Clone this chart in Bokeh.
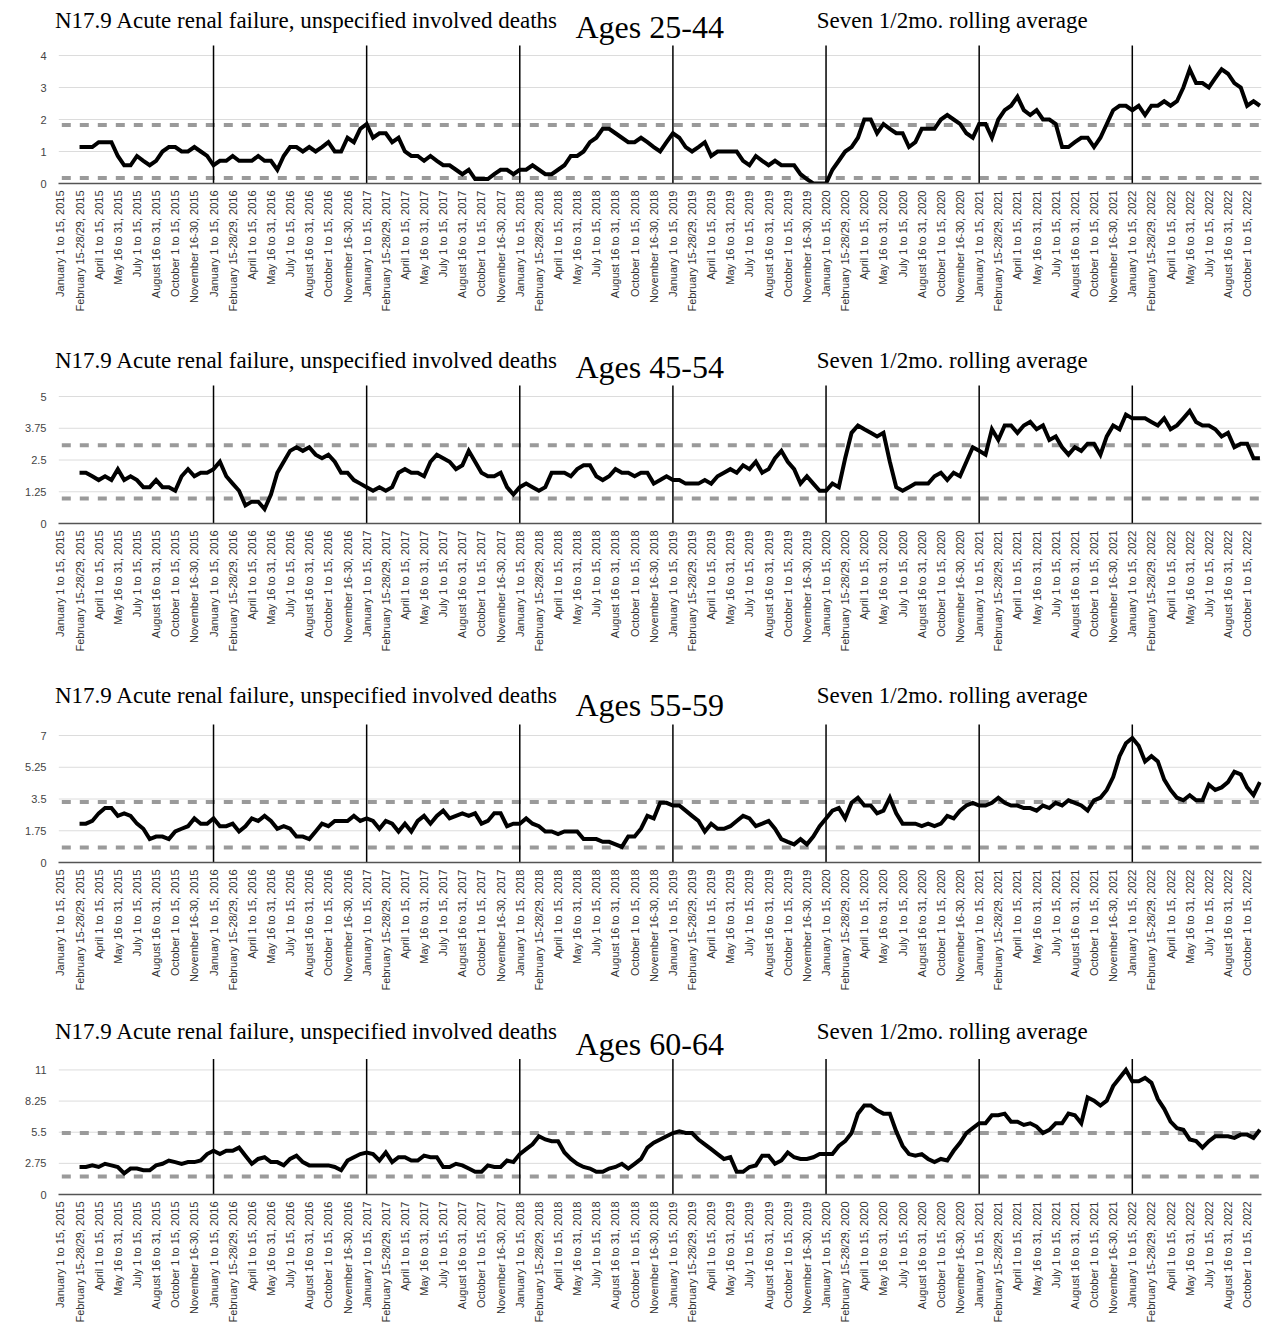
from math import pi
from bokeh.plotting import figure
from bokeh.layouts import column
from bokeh.models import Range1d, FixedTicker, Label
from bokeh.embed import file_html
from bokeh.resources import INLINE

# ---------------- data ----------------
title_left = "N17.9 Acute renal failure, unspecified involved deaths"
title_right = "Seven 1/2mo. rolling average"
age_groups = ["Ages 25-44", "Ages 45-54", "Ages 55-59", "Ages 60-64"]

period_names = ["January 1 to 15", "February 15-28/29", "April 1 to 15", "May 16 to 31",
                "July 1 to 15", "August 16 to 31", "October 1 to 15", "November 16-30"]
years = [2015, 2016, 2017, 2018, 2019, 2020, 2021, 2022]
n_categories = 189          # half-month periods shown
first_value_index = 3       # centred 7-point rolling average starts here
year_starts = [24, 48, 72, 96, 120, 144, 168]

ages_25_44 = [
    1.14, 1.14, 1.14, 1.29, 1.29, 1.29, 0.86, 0.57, 0.57, 0.86, 0.71, 0.57, 0.71, 1.0, 1.14, 1.14,
    1.0, 1.0, 1.14, 1.0, 0.86, 0.57, 0.71, 0.71, 0.86, 0.71, 0.71, 0.71, 0.86, 0.71, 0.71, 0.43,
    0.86, 1.14, 1.14, 1.0, 1.14, 1.0, 1.14, 1.29, 1.0, 1.0, 1.43, 1.29, 1.71, 1.86, 1.43, 1.57,
    1.57, 1.29, 1.43, 1.0, 0.86, 0.86, 0.71, 0.86, 0.71, 0.57, 0.57, 0.43, 0.29, 0.43, 0.14, 0.14,
    0.14, 0.29, 0.43, 0.43, 0.29, 0.43, 0.43, 0.57, 0.43, 0.29, 0.29, 0.43, 0.57, 0.86, 0.86, 1.0,
    1.29, 1.43, 1.71, 1.71, 1.57, 1.43, 1.29, 1.29,
    1.43, 1.29, 1.14, 1.0, 1.29, 1.57, 1.43, 1.14, 1.0, 1.14, 1.29, 0.86, 1.0, 1.0, 1.0, 1.0,
    0.71, 0.57, 0.86, 0.71, 0.57, 0.71, 0.57, 0.57, 0.57, 0.29, 0.14, 0.0, 0.0, 0.0, 0.43, 0.71,
    1.0, 1.14, 1.43, 2.0, 2.0, 1.57, 1.86, 1.71, 1.57, 1.57, 1.14, 1.29, 1.71, 1.71, 1.71, 2.0,
    2.14, 2.0, 1.86, 1.57, 1.43, 1.86, 1.86, 1.43, 2.0, 2.29, 2.43, 2.71, 2.29, 2.14, 2.29, 2.0,
    2.0, 1.86, 1.14, 1.14, 1.29, 1.43, 1.43, 1.14, 1.43, 1.86, 2.29, 2.43, 2.43, 2.29, 2.43, 2.14,
    2.43, 2.43, 2.57, 2.43, 2.57, 3.0, 3.57, 3.14, 3.14, 3.0, 3.29, 3.57, 3.43, 3.14, 3.0, 2.43,
    2.57, 2.43]

ages_45_54 = [
    2.0, 2.0, 1.86, 1.71, 1.86, 1.71, 2.14, 1.71, 1.86, 1.71, 1.43, 1.43, 1.71, 1.43, 1.43, 1.29,
    1.86, 2.14, 1.86, 2.0, 2.0, 2.14, 2.43, 1.86, 1.57, 1.29, 0.71, 0.86, 0.86, 0.57, 1.14, 2.0,
    2.43, 2.86, 3.0, 2.86, 3.0, 2.71, 2.57, 2.71, 2.43, 2.0, 2.0, 1.71, 1.57, 1.43, 1.29, 1.43,
    1.29, 1.43, 2.0, 2.14, 2.0, 2.0, 1.86, 2.43, 2.71, 2.57, 2.43, 2.14, 2.29, 2.86, 2.43, 2.0,
    1.86, 1.86, 2.0, 1.43, 1.14, 1.43, 1.57, 1.43, 1.29, 1.43, 2.0, 2.0, 2.0, 1.86, 2.14, 2.29,
    2.29, 1.86, 1.71, 1.86, 2.14, 2.0, 2.0, 1.86,
    2.0, 2.0, 1.57, 1.71, 1.86, 1.71, 1.71, 1.57, 1.57, 1.57, 1.71, 1.57, 1.86, 2.0, 2.14, 2.0,
    2.29, 2.14, 2.43, 2.0, 2.14, 2.57, 2.86, 2.43, 2.14, 1.57, 1.86, 1.57, 1.29, 1.29, 1.57, 1.43,
    2.57, 3.57, 3.86, 3.71, 3.57, 3.43, 3.57, 2.43, 1.43, 1.29, 1.43, 1.57, 1.57, 1.57, 1.86, 2.0,
    1.71, 2.0, 1.86, 2.43, 3.0, 2.86, 2.71, 3.71, 3.29, 3.86, 3.86, 3.57, 3.86, 4.0, 3.71, 3.86,
    3.29, 3.43, 3.0, 2.71, 3.0, 2.86, 3.14, 3.14, 2.71, 3.43, 3.86, 3.71, 4.29, 4.14, 4.14, 4.14,
    4.0, 3.86, 4.14, 3.71, 3.86, 4.14, 4.43, 4.0, 3.86, 3.86, 3.71, 3.43, 3.57, 3.0, 3.14, 3.14,
    2.57, 2.57]

ages_55_59 = [
    2.14, 2.14, 2.29, 2.71, 3.0, 3.0, 2.57, 2.71, 2.57, 2.14, 1.86, 1.29, 1.43, 1.43, 1.29, 1.71,
    1.86, 2.0, 2.43, 2.14, 2.14, 2.43, 2.0, 2.0, 2.14, 1.71, 2.0, 2.43, 2.29, 2.57, 2.29, 1.86,
    2.0, 1.86, 1.43, 1.43, 1.29, 1.71, 2.14, 2.0, 2.29, 2.29, 2.29, 2.57, 2.29, 2.43, 2.29, 1.86,
    2.29, 2.14, 1.71, 2.14, 1.71, 2.29, 2.57, 2.14, 2.57, 2.86, 2.43, 2.57, 2.71, 2.57, 2.71, 2.14,
    2.29, 2.71, 2.71, 2.0, 2.14, 2.14, 2.43, 2.14, 2.0, 1.71, 1.71, 1.57, 1.71, 1.71, 1.71, 1.29,
    1.29, 1.29, 1.14, 1.14, 1.0, 0.86, 1.43, 1.43,
    1.86, 2.57, 2.43, 3.29, 3.29, 3.14, 3.14, 2.86, 2.57, 2.29, 1.71, 2.14, 1.86, 1.86, 2.0, 2.29,
    2.57, 2.43, 2.0, 2.14, 2.29, 1.86, 1.29, 1.14, 1.0, 1.29, 1.0, 1.43, 2.0, 2.43, 2.86, 3.0,
    2.43, 3.29, 3.57, 3.14, 3.14, 2.71, 2.86, 3.57, 2.71, 2.14, 2.14, 2.14, 2.0, 2.14, 2.0, 2.14,
    2.57, 2.43, 2.86, 3.14, 3.29, 3.14, 3.14, 3.29, 3.57, 3.29, 3.14, 3.14, 3.0, 3.0, 2.86, 3.14,
    3.0, 3.29, 3.14, 3.43, 3.29, 3.14, 2.86, 3.43, 3.57, 4.0, 4.71, 5.86, 6.57, 6.86, 6.43, 5.57,
    5.86, 5.57, 4.57, 4.0, 3.57, 3.43, 3.71, 3.43, 3.43, 4.29, 4.0, 4.14, 4.43, 5.0, 4.86, 4.14,
    3.71, 4.43]

ages_60_64 = [
    2.43, 2.43, 2.57, 2.43, 2.71, 2.57, 2.43, 1.86, 2.29, 2.29, 2.14, 2.14, 2.57, 2.71, 3.0, 2.86,
    2.71, 2.86, 2.86, 3.0, 3.57, 3.86, 3.57, 3.86, 3.86, 4.14, 3.43, 2.71, 3.14, 3.29, 2.86, 2.86,
    2.57, 3.14, 3.43, 2.86, 2.57, 2.57, 2.57, 2.57, 2.43, 2.14, 3.0, 3.29, 3.57, 3.71, 3.57, 3.0,
    3.71, 2.86, 3.29, 3.29, 3.0, 3.0, 3.43, 3.29, 3.29, 2.43, 2.43, 2.71, 2.57, 2.29, 2.0, 2.0,
    2.57, 2.43, 2.43, 3.0, 2.86, 3.57, 4.0, 4.43, 5.14, 4.86, 4.71, 4.71, 3.71, 3.14, 2.71, 2.43,
    2.29, 2.0, 2.0, 2.29, 2.43, 2.71, 2.29, 2.71,
    3.14, 4.14, 4.57, 4.86, 5.14, 5.43, 5.57, 5.43, 5.43, 4.86, 4.43, 4.0, 3.57, 3.14, 3.29, 2.0,
    2.0, 2.43, 2.57, 3.43, 3.43, 2.71, 3.0, 3.71, 3.29, 3.14, 3.14, 3.29, 3.57, 3.57, 3.57, 4.29,
    4.71, 5.43, 7.14, 7.86, 7.86, 7.43, 7.14, 7.14, 5.57, 4.29, 3.57, 3.43, 3.57, 3.14, 2.86, 3.14,
    3.0, 3.86, 4.57, 5.43, 5.86, 6.29, 6.29, 7.0, 7.0, 7.14, 6.43, 6.43, 6.14, 6.29, 6.0, 5.43,
    5.71, 6.29, 6.29, 7.14, 7.0, 6.29, 8.57, 8.29, 7.86, 8.29, 9.57, 10.29, 11.0, 10.0, 10.0, 10.29,
    9.86, 8.43, 7.57, 6.43, 5.86, 5.71, 4.86, 4.71, 4.14, 4.71, 5.14, 5.14, 5.14, 5.0, 5.29, 5.29,
    5.0, 5.71]

series = [ages_25_44, ages_45_54, ages_55_59, ages_60_64]

y_ticks = [[0, 1, 2, 3, 4], [0, 1.25, 2.5, 3.75, 5], [0, 1.75, 3.5, 5.25, 7], [0, 2.75, 5.5, 8.25, 11]]
y_tick_labels = [["0", "1", "2", "3", "4"], ["0", "1.25", "2.5", "3.75", "5"],
                 ["0", "1.75", "3.5", "5.25", "7"], ["0", "2.75", "5.5", "8.25", "11"]]
upper_band = [1.83, 3.08, 3.33, 5.44]
lower_band = [0.17, 0.98, 0.83, 1.60]

# ---------------- layout (page pixels) ----------------
fig_tops = [0, 339, 678, 1017]
fig_heights = [339, 339, 339, 308]
zero_px = [183, 523, 862, 1196]        # baseline
top_tick_px = [55, 396, 735, 1070]     # highest tick
vline_top_px = [45, 385, 724, 1059]    # top of year separator lines
title_base_px = [28.7, 368.7, 703.7, 1040]
ages_base_px = [39.3, 379.3, 717.7, 1057]
TITLE_FS = 23
AGES_FS = 32
BASE_SHIFT = 0.4                       # label anchor correction (fraction of font size)
FRAME_TOP = 4
FRAME_LEFT_PX = 50.0
PLOT_LEFT_PX = 58.3
PLOT_RIGHT_PX = 1261.0
FIG_W = 1280

x0, x1 = -0.25, n_categories - 0.75
ppx = (PLOT_RIGHT_PX - PLOT_LEFT_PX) / (x1 - x0)
x_start = x0 - (PLOT_LEFT_PX - FRAME_LEFT_PX) / ppx

tick_pos = list(range(0, n_categories, 3))
tick_labels = {t: f"{period_names[k % 8]}, {years[k // 8]}" for k, t in enumerate(tick_pos)}

def page_x_to_data(px):
    return x0 + (px - PLOT_LEFT_PX) / ppx

figs = []
for k in range(4):
    F = fig_tops[k]
    Z = zero_px[k]
    ppu = (Z - top_tick_px[k]) / y_ticks[k][-1]
    y_end = (Z - (F + FRAME_TOP)) / ppu
    bottom = F + fig_heights[k] - Z

    p = figure(width=FIG_W, height=fig_heights[k],
               x_range=Range1d(x_start, x1), y_range=Range1d(0, y_end),
               output_backend="svg", toolbar_location=None,
               min_border_left=int(FRAME_LEFT_PX), min_border_right=int(FIG_W - PLOT_RIGHT_PX),
               min_border_top=FRAME_TOP, min_border_bottom=int(bottom))
    p.outline_line_color = None
    p.background_fill_color = "white"
    p.border_fill_color = "white"

    # x axis
    p.xaxis.ticker = FixedTicker(ticks=tick_pos)
    p.xaxis.major_label_overrides = tick_labels
    p.xaxis.major_label_orientation = pi / 2
    p.xaxis.bounds = (x0, x1)
    p.xaxis.major_tick_line_color = None
    p.xaxis.major_tick_out = 0
    p.xaxis.major_tick_in = 0
    p.xaxis.minor_tick_line_color = None
    p.xaxis.minor_tick_out = 0
    p.xaxis.axis_line_color = "#555555"
    p.xaxis.axis_line_width = 1.5
    p.xaxis.major_label_text_font = "Liberation Sans"
    p.xaxis.major_label_text_font_size = "11px"
    p.xaxis.major_label_text_color = "#333333"
    p.xaxis.major_label_standoff = 7
    p.xgrid.visible = False
    p.ygrid.visible = False

    # y axis
    p.yaxis.ticker = FixedTicker(ticks=y_ticks[k])
    p.yaxis.major_label_overrides = {t: s for t, s in zip(y_ticks[k], y_tick_labels[k])}
    p.yaxis.axis_line_color = None
    p.yaxis.major_tick_line_color = None
    p.yaxis.major_tick_out = 0
    p.yaxis.major_tick_in = 0
    p.yaxis.minor_tick_line_color = None
    p.yaxis.minor_tick_out = 0
    p.yaxis.major_label_text_font = "Liberation Sans"
    p.yaxis.major_label_text_font_size = "11px"
    p.yaxis.major_label_text_color = "#444444"
    p.yaxis.major_label_standoff = 4

    # horizontal grid lines at the ticks (bounded to the plot area)
    gy = y_ticks[k][1:]
    p.segment(x0=[x0] * len(gy), y0=gy, x1=[x1] * len(gy), y1=gy,
              line_color="#dcdcdc", line_width=1)

    # band lines
    bands = [upper_band[k], lower_band[k]]
    p.segment(x0=[x0] * 2, y0=bands, x1=[x1] * 2, y1=bands, line_color="#9a9a9a",
              line_width=4, line_dash="9 9", line_dash_offset=15)

    # year separators
    vtop = (Z - vline_top_px[k]) / ppu
    p.segment(x0=year_starts, y0=[0] * len(year_starts), x1=year_starts,
              y1=[vtop] * len(year_starts), line_color="black", line_width=1.5)

    xs = list(range(first_value_index, first_value_index + len(series[k])))
    p.line(xs, series[k], line_color="black", line_width=4, line_join="miter")

    ty = (Z - (title_base_px[k] - BASE_SHIFT * TITLE_FS)) / ppu
    ay = (Z - (ages_base_px[k] - BASE_SHIFT * AGES_FS)) / ppu
    p.add_layout(Label(x=page_x_to_data(54.5), y=ty, text=title_left,
                       text_font="Liberation Serif", text_font_size=f"{TITLE_FS}px",
                       text_color="black", text_baseline="alphabetic"))
    p.add_layout(Label(x=page_x_to_data(816.3), y=ty, text=title_right,
                       text_font="Liberation Serif", text_font_size=f"{TITLE_FS}px",
                       text_color="black", text_baseline="alphabetic"))
    p.add_layout(Label(x=page_x_to_data(575.0), y=ay, text=age_groups[k],
                       text_font="Liberation Serif", text_font_size=f"{AGES_FS}px",
                       text_color="black", text_baseline="alphabetic"))
    figs.append(p)

layout = column(*figs, spacing=0)
open("out.html", "w").write(file_html(layout, INLINE))
